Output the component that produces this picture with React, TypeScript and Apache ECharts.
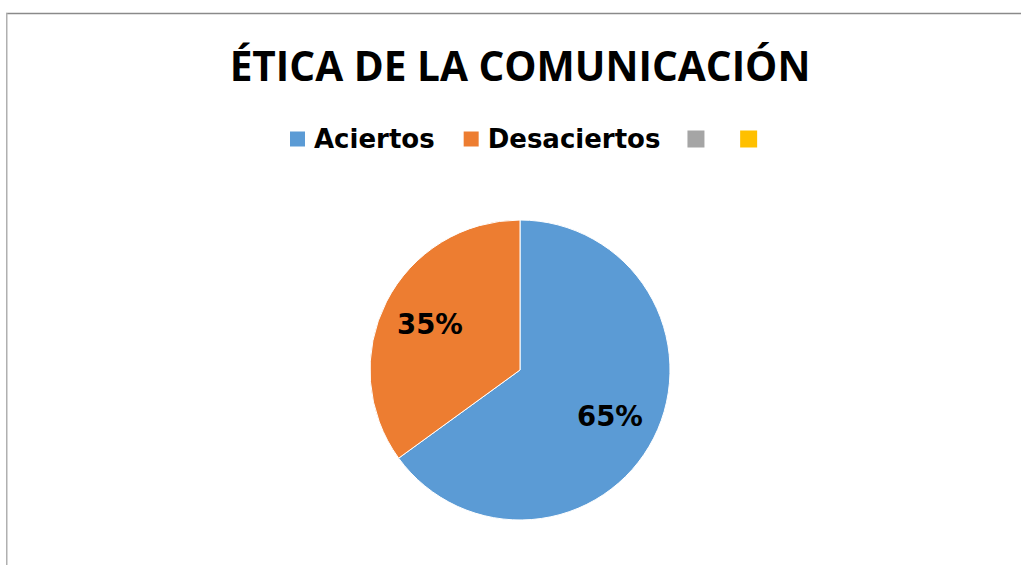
import React, { useEffect, useRef } from "react";
import * as echarts from "echarts";

const titleText = "ÉTICA DE LA COMUNICACIÓN";
const categories = ["Aciertos", "Desaciertos", "Serie 3", "Serie 4"];
const values = [65, 35, 0, 0];
const colors = ["#5B9BD5", "#ED7D31", "#A5A5A5", "#FFC000"];
const blankLegend = [false, false, true, true];

export default function App() {
  const ref = useRef<HTMLDivElement>(null);
  useEffect(() => {
    if (!ref.current) return;
    const chart = echarts.init(ref.current, undefined, { renderer: "svg" });
    const pieData = categories.map((name, i) => ({
      name,
      value: values[i],
      itemStyle: { color: colors[i], borderWidth: values[i] > 0 ? 1 : 0 },
    }));
    const labelData = categories.map((name, i) => ({
      name,
      value: values[i],
      label: { show: values[i] > 0 },
    }));
    chart.setOption({
      animation: false,
      backgroundColor: "#ffffff",
      title: {
        text: titleText,
        left: 515,
        textAlign: "center",
        top: 40,
        textStyle: {
          fontFamily: "Open Sans",
          fontWeight: "bold",
          fontSize: 40.6,
          color: "#000000",
        },
      },
      legend: {
        left: 283,
        top: 121,
        itemWidth: 17,
        itemHeight: 17,
        itemGap: 27,
        icon: "rect",
        selectedMode: false,
        data: categories.map((name, i) => ({
          name,
          itemStyle: { color: colors[i] },
          textStyle: blankLegend[i] ? { fontSize: 2 } : undefined,
        })),
        formatter: (name: string) =>
          blankLegend[categories.indexOf(name)] ? " " : name,
        textStyle: {
          fontFamily: "DejaVu Sans",
          fontWeight: "bold",
          fontSize: 26,
          color: "#000000",
          padding: [0, 0, 0, 3],
        },
      },
      graphic: [
        {
          type: "line",
          shape: { x1: 6, y1: 13.5, x2: 1021, y2: 13.5 },
          style: { stroke: "#8a8a8a", lineWidth: 1.5 },
          silent: true,
        },
        {
          type: "line",
          shape: { x1: 6.75, y1: 13, x2: 6.75, y2: 565 },
          style: { stroke: "#b0b0b0", lineWidth: 1.5 },
          silent: true,
        },
      ],
      series: [
        {
          type: "pie",
          center: [520, 370],
          radius: [0, 150],
          startAngle: 90,
          clockwise: true,
          silent: true,
          label: { show: false },
          labelLine: { show: false },
          itemStyle: { borderColor: "#ffffff" },
          data: pieData,
        },
        {
          type: "pie",
          center: [520, 370],
          radius: [0, 196],
          startAngle: 90,
          clockwise: true,
          silent: true,
          itemStyle: { color: "rgba(0,0,0,0)", borderWidth: 0 },
          label: {
            show: true,
            position: "inside",
            formatter: "{d}%",
            fontFamily: "DejaVu Sans",
            fontWeight: "bold",
            fontSize: 27.5,
            color: "#000000",
          },
          labelLine: { show: false },
          data: labelData,
        },
      ],
    });
    return () => chart.dispose();
  }, []);
  return (
    <div
      ref={ref}
      style={{ position: "absolute", left: 0, top: 0, width: 1021, height: 565 }}
    />
  );
}
